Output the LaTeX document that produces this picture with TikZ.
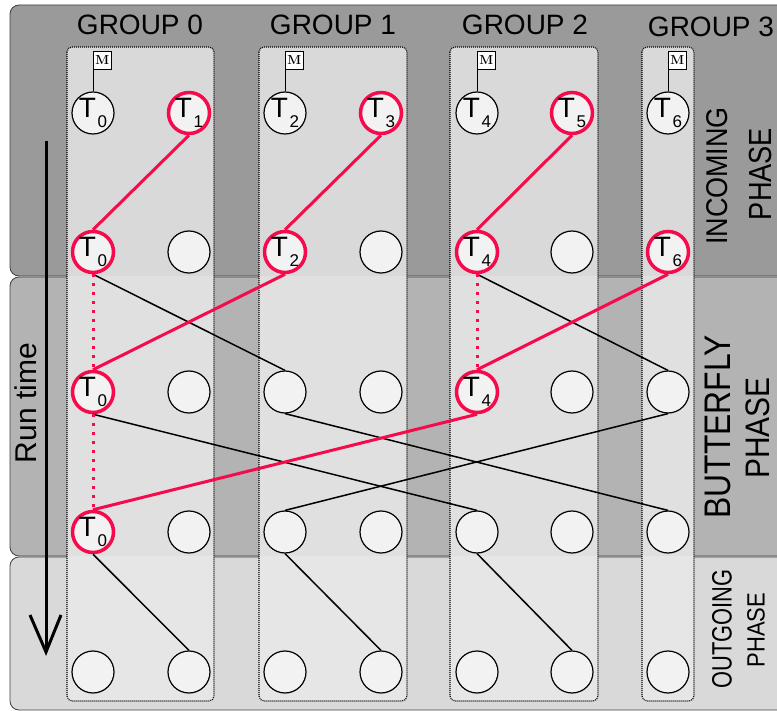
\documentclass[tikz,border=0pt]{standalone}
\usepackage{fontspec}
\setsansfont{Liberation Sans}
\usepackage{graphicx}
\definecolor{tred}{RGB}{245,10,75}
\definecolor{bandIn}{HTML}{9A9A9A}
\definecolor{bandBf}{HTML}{B3B3B3}
\definecolor{bandOut}{HTML}{D9D9D9}
\definecolor{colIn}{HTML}{D9D9D9}
\definecolor{colBf}{HTML}{E0E0E0}
\definecolor{colOut}{HTML}{E6E6E6}
\definecolor{nodefill}{HTML}{F2F2F2}
\newcommand\Tsub[1]{T\kern1.5pt\raisebox{-10pt}{\fontsize{17}{17}\selectfont #1}}
\begin{document}
\begin{tikzpicture}[x=1pt,y=-1pt,font=\sffamily,
  band/.style={draw=black!75,line width=0.8pt,rounded corners=9pt},
  coldot/.style={draw=black,line width=1.1pt,dash pattern=on 1pt off 1pt,rounded corners=5pt},
  tnode/.style={circle,draw=black,line width=1.2pt,fill=nodefill,minimum size=42pt,inner sep=0pt,font=\sffamily\fontsize{28}{28}\selectfont},
  rnode/.style={tnode,draw=tred,line width=3.5pt,minimum size=41pt},
  blk/.style={line width=1.5pt,black},
  redl/.style={line width=3pt,tred},
  reddot/.style={line width=3pt,tred,dash pattern=on 3pt off 6pt},
  mbox/.style={rectangle,draw=black,line width=0.8pt,fill=white,minimum size=18pt,inner sep=0pt,anchor=south west,font=\rmfamily\bfseries\fontsize{13}{13}\selectfont},
  grp/.style={font=\sffamily\fontsize{28}{28}\selectfont,inner sep=0pt},
  phase/.style={rotate=90,inner sep=0pt}
]
\useasboundingbox (0,0) rectangle (777,711);
\begin{scope}
\clip (0,0) rectangle (777,711);
% bands
\draw[band,fill=bandIn] (10,5) rectangle (830,276);
\draw[band,fill=bandBf] (10,277) rectangle (830,556);
\draw[band,fill=bandOut] (10,557) rectangle (830,710);
\end{scope}
% columns
\foreach \xa/\xb in {67/214,259/407,450/598,642/694}{
  \begin{scope}\clip (0,0) rectangle (777,276.5);
    \fill[colIn,rounded corners=5pt] (\xa,47) rectangle (\xb,701);\end{scope}
  \begin{scope}\clip (0,276.5) rectangle (777,556.5);
    \fill[colBf,rounded corners=5pt] (\xa,47) rectangle (\xb,701);\end{scope}
  \begin{scope}\clip (0,556.5) rectangle (777,711);
    \fill[colOut,rounded corners=5pt] (\xa,47) rectangle (\xb,701);\end{scope}
  \draw[coldot] (\xa,47) rectangle (\xb,701);
}
% group labels
\node[grp] (g0) at (140,25) {GROUP 0};
\node[grp] (g1) at (333,25) {GROUP 1};
\node[grp] (g2) at (525,25) {GROUP 2};
\node[grp] (g3) at (711,27) {GROUP 3};
% phase labels
\node[phase] (inc1) at (717,176) {\fontsize{30}{30}\selectfont\scalebox{0.9}[1]{INCOMING}};
\node[phase] (inc2) at (760,174) {\fontsize{32}{32}\selectfont\scalebox{0.85}[1]{PHASE}};
\node[phase] (bf1) at (718,427) {\fontsize{37}{37}\selectfont\scalebox{0.86}[1]{BUTTERFLY}};
\node[phase] (bf2) at (758,428) {\fontsize{34}{34}\selectfont\scalebox{0.88}[1]{PHASE}};
\node[phase] (out1) at (722,629) {\fontsize{28}{28}\selectfont\scalebox{0.78}[1]{OUTGOING}};
\node[phase] (out2) at (756,630) {\fontsize{25}{25}\selectfont\scalebox{0.88}[1]{PHASE}};
% run time arrow
\node[phase] (rt) at (26,403) {\fontsize{30}{30}\selectfont Run time};
\coordinate (as) at (46,141);
\coordinate (ae) at (46,652);
\coordinate (al) at (30,615);
\coordinate (ar) at (61,615);
\draw[line width=3pt] (as) -- (ae);
\draw[line width=3pt,line join=miter] (al) -- (ae) -- (ar);
% row 1
\node[tnode] (r1c1) at (93,113) {\Tsub{0}};
\node[rnode] (r1c2) at (189,113) {\Tsub{1}};
\node[tnode] (r1c3) at (285,113) {\Tsub{2}};
\node[rnode] (r1c4) at (381,113) {\Tsub{3}};
\node[tnode] (r1c5) at (477,113) {\Tsub{4}};
\node[rnode] (r1c6) at (572,113) {\Tsub{5}};
\node[tnode] (r1c7) at (668,113) {\Tsub{6}};
% M boxes
\foreach \c in {1,3,5,7}{
  \node[mbox] (m\c) at ([yshift=22pt]r1c\c.north) {M};
  \draw[line width=0.8pt] (r1c\c.north) -- (m\c.south west);
}
% row 2
\node[rnode] (r2c1) at (93,252) {\Tsub{0}};
\node[tnode] (r2c2) at (189,252) {};
\node[rnode] (r2c3) at (285,252) {\Tsub{2}};
\node[tnode] (r2c4) at (381,252) {};
\node[rnode] (r2c5) at (477,252) {\Tsub{4}};
\node[tnode] (r2c6) at (572,252) {};
\node[rnode] (r2c7) at (668,252) {\Tsub{6}};
% row 3
\node[rnode] (r3c1) at (93,392) {\Tsub{0}};
\node[tnode] (r3c2) at (189,392) {};
\node[tnode] (r3c3) at (285,392) {};
\node[tnode] (r3c4) at (381,392) {};
\node[rnode] (r3c5) at (477,392) {\Tsub{4}};
\node[tnode] (r3c6) at (572,392) {};
\node[tnode] (r3c7) at (668,392) {};
% row 4
\node[rnode] (r4c1) at (93,532) {\Tsub{0}};
\node[tnode] (r4c2) at (189,532) {};
\node[tnode] (r4c3) at (285,532) {};
\node[tnode] (r4c4) at (381,532) {};
\node[tnode] (r4c5) at (477,532) {};
\node[tnode] (r4c6) at (572,532) {};
\node[tnode] (r4c7) at (668,532) {};
% row 5
\node[tnode] (r5c1) at (93,672) {};
\node[tnode] (r5c2) at (189,672) {};
\node[tnode] (r5c3) at (285,672) {};
\node[tnode] (r5c4) at (381,672) {};
\node[tnode] (r5c5) at (477,672) {};
\node[tnode] (r5c6) at (572,672) {};
\node[tnode] (r5c7) at (668,672) {};
% black connectors
\draw[blk] (r2c1.south) -- (r3c3.north);
\draw[blk] (r2c5.south) -- (r3c7.north);
\draw[blk] (r3c1.south) -- (r4c5.north);
\draw[blk] (r3c3.south) -- (r4c7.north);
\draw[blk] (r3c7.south) -- (r4c3.north);
\draw[blk] (r4c1.south) -- (r5c2.north);
\draw[blk] (r4c3.south) -- (r5c4.north);
\draw[blk] (r4c5.south) -- (r5c6.north);
% red connectors
\draw[redl] (r1c2.south) -- (r2c1.north);
\draw[redl] (r1c4.south) -- (r2c3.north);
\draw[redl] (r1c6.south) -- (r2c5.north);
\draw[redl] (r2c3.south) -- (r3c1.north);
\draw[redl] (r2c7.south) -- (r3c5.north);
\draw[redl] (r3c5.south) -- (r4c1.north);
\draw[reddot] (r2c1.south) -- (r3c1.north);
\draw[reddot] (r3c1.south) -- (r4c1.north);
\draw[reddot] (r2c5.south) -- (r3c5.north);
\end{tikzpicture}
\end{document}
